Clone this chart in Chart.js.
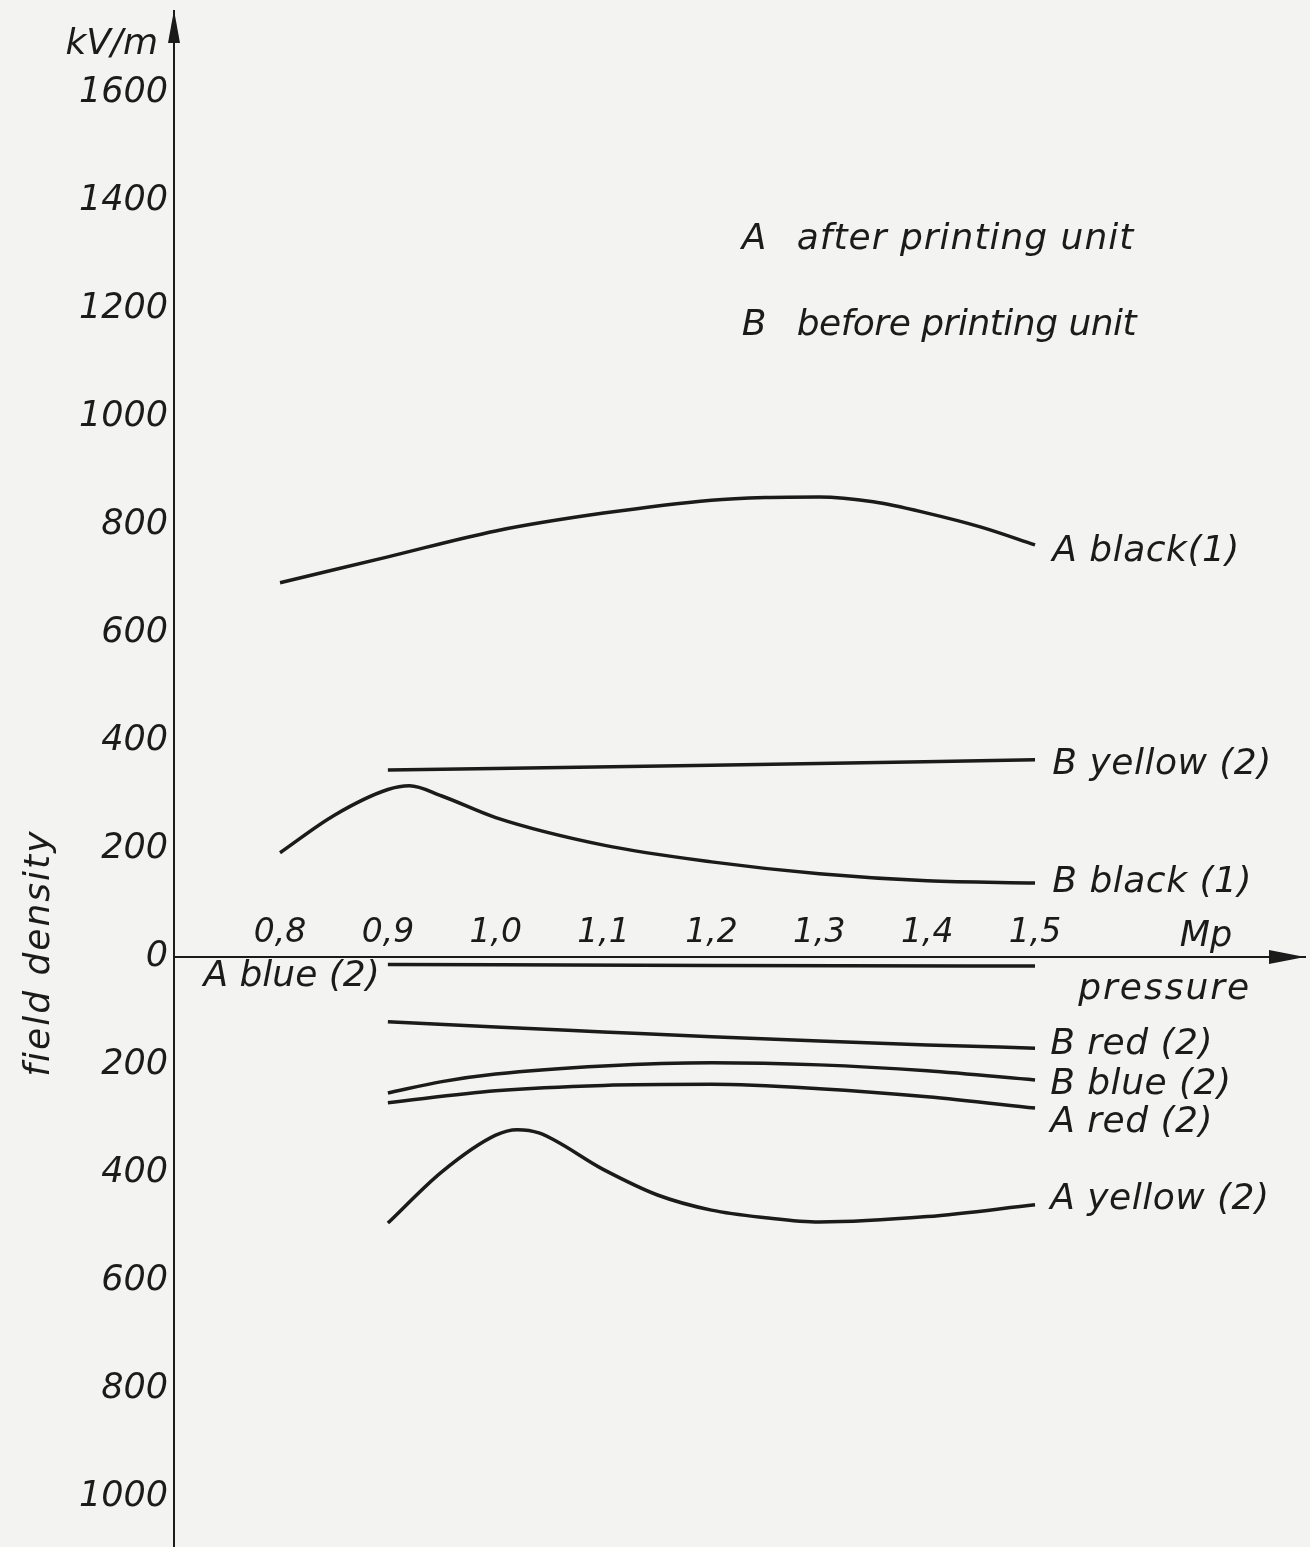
<!DOCTYPE html>
<html>
<head>
<meta charset="utf-8">
<title>Field density versus pressure</title>
<script src="https://cdn.jsdelivr.net/npm/chart.js@4.4.1/dist/chart.umd.min.js"></script>
<style>
  html, body { margin: 0; padding: 0; background: #f3f3f1; }
  #wrap { width: 1310px; height: 1547px; position: relative; }
  canvas { display: block; }
</style>
</head>
<body>
<div id="wrap"><canvas id="chart" width="1310" height="1547"></canvas></div>
<script>
// Pressure in Mp, field density in kV/m (values below the pressure axis are negative)
const aBlackP  = [0.8, 0.9, 1.0, 1.1, 1.2, 1.25, 1.3, 1.35, 1.4, 1.45, 1.5];
const aBlackV  = [693, 741, 789, 822, 846, 851, 852, 843, 822, 796, 763];

const bYellowP = [0.9, 1.2, 1.5];
const bYellowV = [346, 355, 365];

const bBlackP  = [0.8, 0.85, 0.9, 0.92, 0.95, 1.0, 1.1, 1.2, 1.3, 1.4, 1.5];
const bBlackV  = [193, 262, 310, 317, 298, 258, 207, 176, 154, 141, 137];

const aBlueP   = [0.9, 1.2, 1.5];
const aBlueV   = [-14, -16, -17];

const bRedP    = [0.9, 1.0, 1.1, 1.2, 1.3, 1.4, 1.5];
const bRedV    = [-120, -130, -139, -148, -156, -163, -169];

const bBlueP   = [0.9, 0.95, 1.0, 1.1, 1.2, 1.3, 1.4, 1.5];
const bBlueV   = [-252, -231, -217, -202, -196, -200, -211, -228];

const aRedP    = [0.9, 1.0, 1.1, 1.2, 1.3, 1.4, 1.5];
const aRedV    = [-270, -248, -238, -236, -244, -259, -280];

const aYellowP = [0.9, 0.95, 1.0, 1.02, 1.04, 1.1, 1.15, 1.2, 1.25, 1.3, 1.4, 1.5];
const aYellowV = [-493, -398, -330, -320, -326, -394, -441, -469, -483, -491, -481, -459];

// Axis ticks
const xTicks = [0.8, 0.9, 1.0, 1.1, 1.2, 1.3, 1.4, 1.5];
const yTicks = [-1000, -800, -600, -400, -200, 0, 200, 400, 600, 800, 1000, 1200, 1400, 1600];

// Curve names, written next to the curves
const seriesNames = ['A black(1)', 'B yellow (2)', 'B black (1)', 'A blue (2)',
                     'B red (2)', 'B blue (2)', 'A red (2)', 'A yellow (2)'];

const INK = '#1b1b1b';
const FONT = "'DejaVu Sans', 'Liberation Sans', sans-serif";

function curve(label, p, v) {
  return {
    label,
    data: p.map((x, i) => ({ x, y: v[i] })),
    borderColor: INK,
    borderWidth: 3.5,
    pointRadius: 0,
    cubicInterpolationMode: 'monotone',
    fill: false
  };
}

const datasets = [
  curve(seriesNames[0], aBlackP, aBlackV),
  curve(seriesNames[1], bYellowP, bYellowV),
  curve(seriesNames[2], bBlackP, bBlackV),
  curve(seriesNames[3], aBlueP, aBlueV),
  curve(seriesNames[4], bRedP, bRedV),
  curve(seriesNames[5], bBlueP, bBlueV),
  curve(seriesNames[6], aRedP, aRedV),
  curve(seriesNames[7], aYellowP, aYellowV)
];

// Text placed in axis units: x = pressure where the text starts, y = field density at its middle
const notes = [
  { text: seriesNames[0], x: 1.516, y: 750,  size: 36, spacing: 0.5 },
  { text: seriesNames[1], x: 1.516, y: 356,  size: 36, spacing: 0.5 },
  { text: seriesNames[2], x: 1.516, y: 137,  size: 36, spacing: 0.5 },
  { text: seriesNames[3], x: 0.729, y: -37,  size: 36, spacing: 0 },
  { text: seriesNames[4], x: 1.514, y: -163, size: 36, spacing: 0.5 },
  { text: seriesNames[5], x: 1.514, y: -237, size: 36, spacing: 0.5 },
  { text: seriesNames[6], x: 1.514, y: -307, size: 36, spacing: 0.5 },
  { text: seriesNames[7], x: 1.514, y: -450, size: 36, spacing: 0.5 },
  { text: 'A', x: 1.228, y: 1328, size: 36, spacing: 0 },
  { text: 'after printing unit', x: 1.279, y: 1328, size: 36, spacing: 1 },
  { text: 'B', x: 1.228, y: 1170, size: 36, spacing: 0 },
  { text: 'before printing unit', x: 1.279, y: 1170, size: 36, spacing: -0.5 },
  { text: 'kV/m', x: 0.601, y: 1689, size: 36, spacing: 0 },
  { text: 'Mp', x: 1.6585, y: 37, size: 35, spacing: 0, align: 'center' },
  { text: 'pressure', x: 1.540, y: -61, size: 36, spacing: 2 },
  { text: 'field density', x: 0.5775, y: 7, size: 36, spacing: 2, align: 'center', rotate: true }
];

const paperAndNotes = {
  id: 'paperAndNotes',
  beforeDraw(chart) {
    const { ctx, width, height } = chart;
    ctx.save();
    ctx.fillStyle = '#f3f3f1';
    ctx.fillRect(0, 0, width, height);
    ctx.restore();
  },
  afterDraw(chart) {
    const { ctx, chartArea, scales: { x, y } } = chart;
    ctx.save();
    ctx.fillStyle = INK;

    // arrow head on the field density axis
    const ax = chartArea.left;
    const top = chartArea.top - 1;
    ctx.beginPath();
    ctx.moveTo(ax, top);
    ctx.lineTo(ax - 6, top + 33);
    ctx.lineTo(ax + 6, top + 33);
    ctx.closePath();
    ctx.fill();

    // arrow head on the pressure axis
    const zy = y.getPixelForValue(0);
    const right = chartArea.right;
    ctx.beginPath();
    ctx.moveTo(right, zy);
    ctx.lineTo(right - 36, zy - 7);
    ctx.lineTo(right - 36, zy + 7);
    ctx.closePath();
    ctx.fill();

    // curve names, legend and axis captions
    ctx.textBaseline = 'middle';
    notes.forEach(n => {
      ctx.save();
      ctx.font = `italic ${n.size}px ${FONT}`;
      ctx.letterSpacing = `${n.spacing}px`;
      ctx.textAlign = n.align || 'left';
      const px = x.getPixelForValue(n.x);
      const py = y.getPixelForValue(n.y);
      if (n.rotate) {
        ctx.translate(px, py);
        ctx.rotate(-Math.PI / 2);
        ctx.fillText(n.text, 0, 0);
      } else {
        ctx.fillText(n.text, px, py);
      }
      ctx.restore();
    });
    ctx.restore();
  }
};

new Chart(document.getElementById('chart'), {
  type: 'line',
  data: { datasets },
  plugins: [paperAndNotes],
  options: {
    responsive: false,
    devicePixelRatio: 1,
    animation: false,
    layout: { padding: { left: 0, right: 5, top: 11, bottom: 0 } },
    plugins: {
      legend: { display: false },
      tooltip: { enabled: false },
      title: { display: false }
    },
    scales: {
      x: {
        type: 'linear',
        min: 0.7017,
        max: 1.7503,
        position: { y: 0 },
        grid: { display: false, drawTicks: false },
        border: { display: true, color: INK, width: 2 },
        afterBuildTicks: s => { s.ticks = xTicks.map(v => ({ value: v })); },
        afterFit: s => { s.paddingLeft = 0; s.paddingRight = 0; },
        ticks: {
          autoSkip: false,
          maxRotation: 0,
          padding: -43,
          color: INK,
          font: { family: FONT, size: 33, style: 'italic' },
          callback: v => Number(v).toFixed(1).replace('.', ',')
        }
      },
      y: {
        type: 'linear',
        min: -1093,
        max: 1752,
        position: 'left',
        grid: { display: false, drawTicks: false },
        border: { display: true, color: INK, width: 2 },
        afterBuildTicks: s => { s.ticks = yTicks.map(v => ({ value: v })); },
        afterFit: s => { s.width = 174; s.paddingTop = 0; s.paddingBottom = 0; },
        ticks: {
          autoSkip: false,
          padding: 6,
          color: INK,
          font: { family: FONT, size: 35, style: 'italic' },
          callback: v => String(Math.abs(v))
        }
      }
    }
  }
});
</script>
</body>
</html>
